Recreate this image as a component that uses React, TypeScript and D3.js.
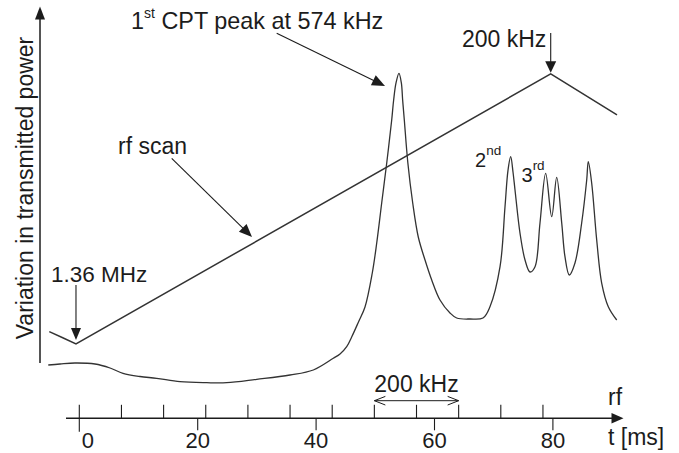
import React from 'react';
import * as d3 from 'd3';

// ---- data ----
const timeTicks = [0, 20, 40, 60, 80]; // ms
const rfTicksKHz = [0, 100, 200, 300, 400, 500, 600, 700, 800, 900, 1000, 1100];
const msPer100kHz = 7.12;
const spanKHz = [700, 900]; // the marked 200 kHz interval on the rf axis

// rf scan (triangular frequency ramp), arbitrary units
const rfScanT = [-5.07, -2.8, -0.56, 79.63, 90.83];
const rfScanV = [16.2, 14.5, 12.8, 87.8, 76.4];

// CPT signal: variation in transmitted power, arbitrary units
const cptT = [
  -5.24, -3.26, -0.73, 2.65, 5.19, 7.38, 10.25, 13.07, 17.01, 21.52, 24.9, 29.97,
  35.59, 39.53, 42.91, 44.04, 45.17, 46.01, 47.16, 48.26, 49.49, 50.24, 51.08,
  51.93, 52.77, 53.1, 53.5, 54.0, 54.4, 54.62, 54.9, 55.5, 56.32, 57.26, 58.4,
  59.53, 60.93, 62.62, 63.75, 65.99, 68.19, 69.37, 71.07, 71.91, 72.42, 72.87,
  73.26, 73.6, 74.44, 75.29, 76.13, 76.98, 77.82, 78.78, 79.8, 80.64, 81.49,
  82.04, 82.77, 83.73, 84.86, 85.71, 85.98, 86.55, 87.4, 88.24, 89.36, 90.78,
];
const cptV = [
  6.94, 7.22, 7.5, 7.22, 6.11, 4.64, 3.75, 3.25, 2.31, 2.03, 2.03, 2.97,
  4.17, 5.56, 8.81, 10.0, 12.03, 14.72, 18.9, 23.06, 32.5, 40.83, 51.94,
  63.06, 75.0, 80.56, 85.3, 87.97, 85.3, 80.56, 75.0, 63.06, 51.94, 42.5, 36.11,
  30.56, 25.0, 21.39, 20.0, 19.72, 20.0, 23.14, 34.25, 50.92, 61.1, 64.81,
  60.56, 55.56, 43.61, 36.11, 32.78, 34.25, 46.39, 60.19, 48.14, 59.08, 46.39,
  37.03, 31.94, 35.28, 46.39, 58.33, 63.42, 57.5, 41.67, 29.72, 23.14, 19.44,
];

const FONT = "'Liberation Sans', Arial, Helvetica, sans-serif";
const INK = '#1c1c1c';
const LINE = '#333';

function head(x1: number, y1: number, x2: number, y2: number, len: number, half: number) {
  const dx = x2 - x1, dy = y2 - y1;
  const L = Math.hypot(dx, dy);
  const ux = dx / L, uy = dy / L;
  const bx = x2 - ux * len, by = y2 - uy * len;
  const px = -uy * half, py = ux * half;
  return `${x2},${y2} ${bx + px},${by + py} ${bx - px},${by - py}`;
}

function Arrow({ x1, y1, x2, y2, len = 13, half = 5 }: any) {
  const dx = x2 - x1, dy = y2 - y1;
  const L = Math.hypot(dx, dy);
  const ex = x2 - (dx / L) * (len - 1), ey = y2 - (dy / L) * (len - 1);
  return (
    <g>
      <line x1={x1} y1={y1} x2={ex} y2={ey} stroke={INK} strokeWidth={1.1} />
      <polygon points={head(x1, y1, x2, y2, len, half)} fill={INK} />
    </g>
  );
}

export default function App() {
  const W = 679, H = 453;
  const x = d3.scaleLinear().domain([0, 80]).range([79.3, 552.9]);
  const y = d3.scaleLinear().domain([0, 100]).range([390, 30]);
  const rfX = d3.scaleLinear().domain([0, 100]).range([x(0), x(msPer100kHz)]);

  const axisY = 418.3;
  const line = d3.line<[number, number]>().x((d) => x(d[0])).y((d) => y(d[1]));
  const smooth = d3
    .line<[number, number]>()
    .x((d) => x(d[0]))
    .y((d) => y(d[1]))
    .curve(d3.curveCatmullRom.alpha(0.5));

  const rfPts = rfScanT.map((t, i) => [t, rfScanV[i]] as [number, number]);
  const cptPts = cptT.map((t, i) => [t, cptV[i]] as [number, number]);

  const rfMinX = x(rfScanT[2]);
  const rfMinY = y(rfScanV[2]);
  const rfMaxX = x(rfScanT[3]);
  const rfMaxY = y(rfScanV[3]);

  const spanL = rfX(spanKHz[0]);
  const spanR = rfX(spanKHz[1]);
  const dblY = 400.7;

  return (
    <svg width={W} height={H} style={{ position: 'absolute', left: 0, top: 0, background: '#fff' }}
      fontFamily={FONT}>
      <rect width={W} height={H} fill="#fff" />

      {/* y axis arrow */}
      <line x1={40} y1={363} x2={40} y2={18} stroke={INK} strokeWidth={1.5} />
      <polygon points={head(40, 363, 40, 6.5, 13, 5)} fill={INK} />
      <text transform="translate(33,188) rotate(-90)" textAnchor="middle" fontSize={23} fill={INK}>
        Variation in transmitted power
      </text>

      {/* curves */}
      <path d={line(rfPts) || ''} fill="none" stroke={LINE} strokeWidth={1.5} />
      <path d={smooth(cptPts) || ''} fill="none" stroke={LINE} strokeWidth={1.3} />

      {/* x axis */}
      <line x1={66} y1={axisY} x2={613} y2={axisY} stroke={INK} strokeWidth={1.5} />
      <polygon points={head(66, axisY, 623.5, axisY, 12, 5.2)} fill={INK} />
      {rfTicksKHz.map((f) => (
        <line key={'rf' + f} x1={rfX(f)} x2={rfX(f)} y1={axisY} y2={axisY - 13.5} stroke={INK} strokeWidth={1.1} />
      ))}
      {timeTicks.map((t) => (
        <g key={'t' + t}>
          <line x1={x(t)} x2={x(t)} y1={axisY} y2={t === 0 ? axisY + 13.5 : axisY + 12} stroke={INK} strokeWidth={1.1} />
          <text x={x(t) + (t === 0 ? 8.5 : 0)} y={448} textAnchor="middle" fontSize={22} fill={INK}>
            {t}
          </text>
        </g>
      ))}
      <text x={608} y={405} fontSize={23} fill={INK}>rf</text>
      <text x={608} y={445} fontSize={23} fill={INK}>t [ms]</text>

      {/* 200 kHz span on rf axis */}
      <line x1={spanL} x2={spanR} y1={dblY} y2={dblY} stroke={INK} strokeWidth={1} />
      <polyline points={`${spanL + 11},${dblY - 4.3} ${spanL},${dblY} ${spanL + 11},${dblY + 4.3}`} fill="none" stroke={INK} strokeWidth={1} />
      <polyline points={`${spanR - 11},${dblY - 4.3} ${spanR},${dblY} ${spanR - 11},${dblY + 4.3}`} fill="none" stroke={INK} strokeWidth={1} />
      <text x={(spanL + spanR) / 2} y={392} textAnchor="middle" fontSize={23} fill={INK}>200 kHz</text>

      {/* annotations */}
      <text x={131} y={28.5} fontSize={23.4} fill={INK}>
        1<tspan dy={-11} fontSize={14}>st</tspan>
        <tspan dy={11}> CPT peak at 574 kHz</tspan>
      </text>
      <Arrow x1={276.7} y1={33.3} x2={385} y2={86} len={13} half={5.5} />

      <text x={118} y={153.5} fontSize={23} fill={INK}>rf scan</text>
      <Arrow x1={171.7} y1={158.3} x2={252} y2={237} len={13} half={5.5} />

      <text x={51} y={281.5} fontSize={22.5} fill={INK}>1.36 MHz</text>
      <Arrow x1={rfMinX} y1={285} x2={rfMinX} y2={rfMinY - 4} len={12} half={5} />

      <text x={462} y={46.7} fontSize={23} fill={INK}>200 kHz</text>
      <Arrow x1={rfMaxX} y1={33} x2={rfMaxX} y2={rfMaxY - 1.2} len={11.5} half={5.5} />

      <text x={475} y={166.7} fontSize={20} fill={INK}>
        2<tspan dy={-11.5} fontSize={13.5}>nd</tspan>
      </text>
      <text x={521.5} y={181.7} fontSize={20} fill={INK}>
        3<tspan dy={-11.5} fontSize={13.5}>rd</tspan>
      </text>
    </svg>
  );
}
